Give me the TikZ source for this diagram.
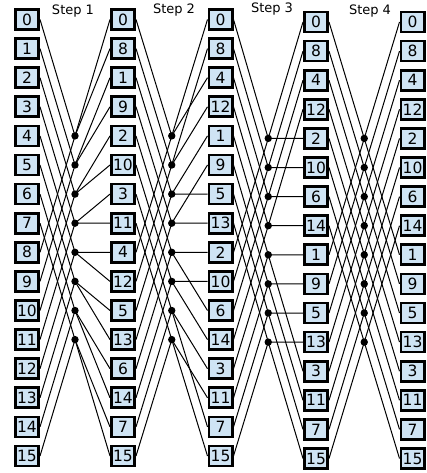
\documentclass[tikz,border=0pt]{standalone}
\usepackage{fontspec}
\setmainfont{DejaVu Sans}
\usetikzlibrary{calc}
\definecolor{ink}{HTML}{000000}
\definecolor{boxfill}{HTML}{CFE4F4}
\newcommand{\rowgap}{29.1}
\tikzset{
  numbox/.style={draw=ink, fill=boxfill, line width=2.7pt, minimum width=23.3pt, minimum height=20pt,
                 inner sep=0pt, font=\fontsize{15.5}{17}\selectfont, text=ink},
  wire/.style={ink, line width=1pt},
  junction/.style={circle, fill=ink, inner sep=0pt, minimum size=7.4pt},
  steplabel/.style={font=\fontsize{13}{15}\selectfont, text=ink}
}
\begin{document}
\begin{tikzpicture}[x=1pt,y=-1pt]
\useasboundingbox (0,0) rectangle (426,473);

% ---------- columns of boxes (column / x / top row y / order)
\foreach \c/\x/\y/\vals in {0/27/19.5/{0,1,2,3,4,5,6,7,8,9,10,11,12,13,14,15},
                            1/123/19.5/{0,8,1,9,2,10,3,11,4,12,5,13,6,14,7,15},
                            2/220.5/19.5/{0,8,4,12,1,9,5,13,2,10,6,14,3,11,7,15},
                            3/316/22/{0,8,4,12,2,10,6,14,1,9,5,13,3,11,7,15},
                            4/412.5/22/{0,8,4,12,2,10,6,14,1,9,5,13,3,11,7,15}} {
  \foreach \v [count=\r from 0] in \vals {
    \node[numbox] (c\c-\r) at (\x,{\y+\r*\rowgap}) {\v};
  }
}

% ---------- gaps between columns
\coordinate (g1) at (75,0);
\coordinate (g2) at (171.75,0);
\coordinate (g3) at (268.25,0);
\coordinate (g4) at (364.25,0);

% ---------- butterflies
\foreach \s in {1,...,4} {
  \pgfmathtruncatemacro{\p}{\s-1}
  \pgfmathtruncatemacro{\h}{2^(\s-1)}
  \foreach \k in {0,...,7} {
    \pgfmathtruncatemacro{\ra}{\k+4}
    \pgfmathtruncatemacro{\kb}{\k+8}
    \pgfmathtruncatemacro{\oa}{2*\h*floor(\k/\h)+mod(\k,\h)}
    \pgfmathtruncatemacro{\ob}{\oa+\h}
    \coordinate (d\s-\k) at (g\s |- c\s-\ra);
    \draw[wire] (c\p-\k.east) -- (d\s-\k) -- (c\s-\oa.west);
    \draw[wire] (c\p-\kb.east) -- (d\s-\k) -- (c\s-\ob.west);
    \node[junction] (j\s-\k) at (d\s-\k) {};
  }
}

% ---------- step labels
\node[steplabel] (step1) at (73,11) {Step 1};
\node[steplabel] (step2) at (174,10) {Step 2};
\node[steplabel] (step3) at (272,9) {Step 3};
\node[steplabel] (step4) at (370,11.5) {Step 4};

\end{tikzpicture}
\end{document}
